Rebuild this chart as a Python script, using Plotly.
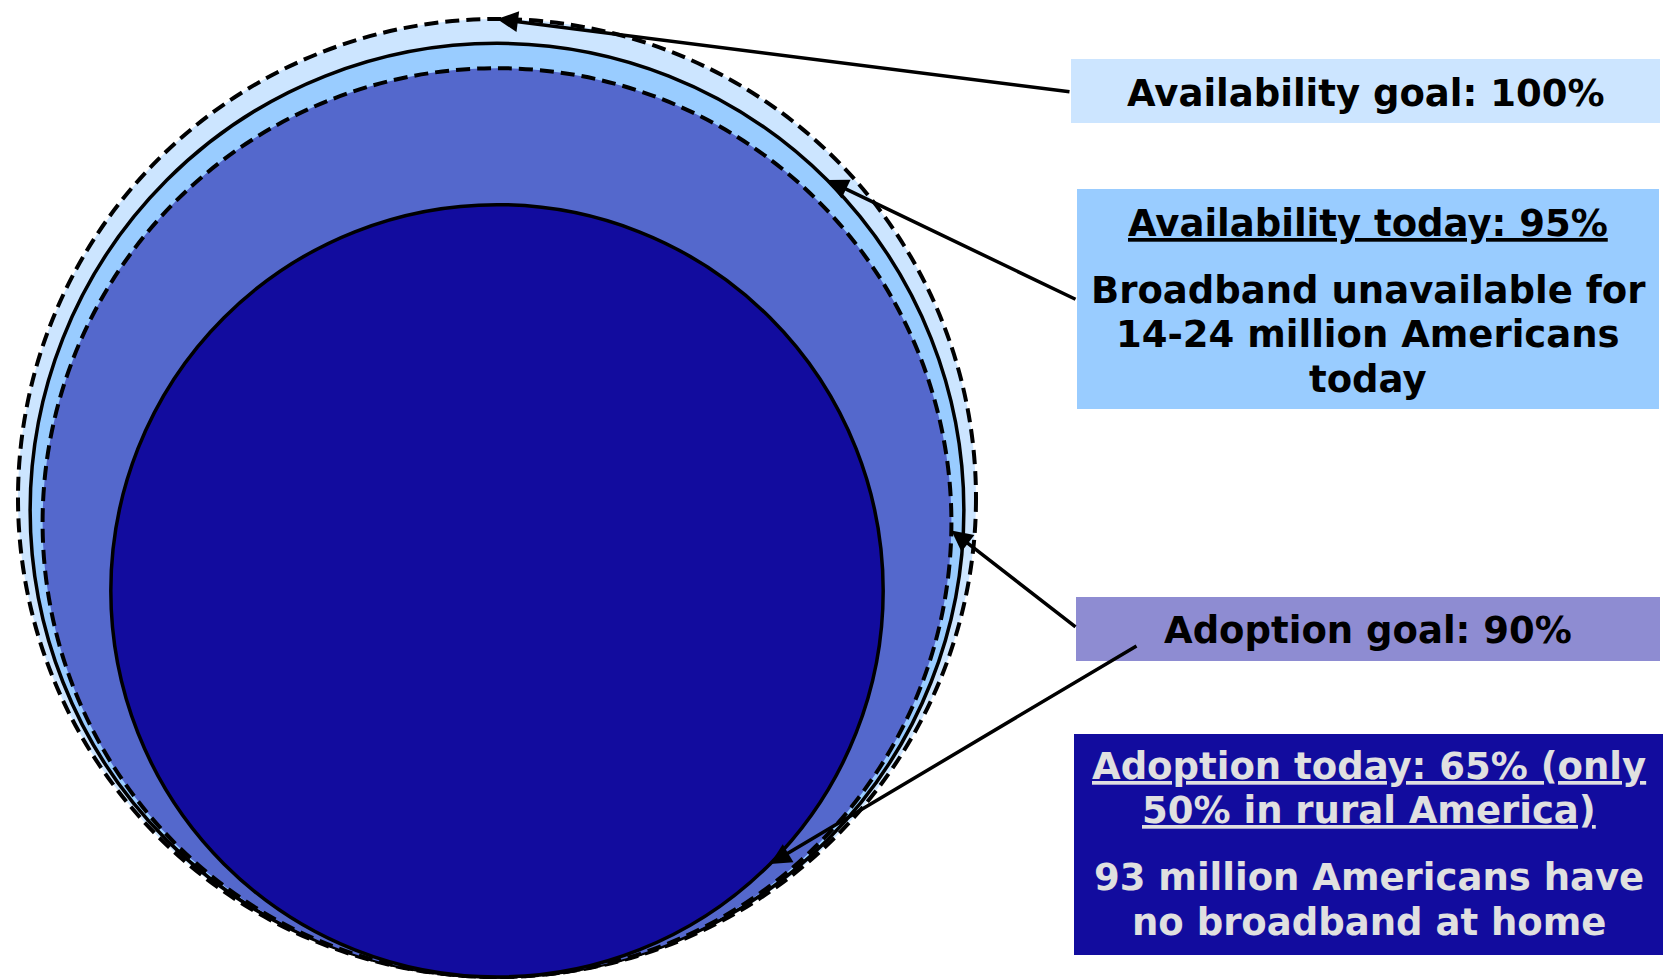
import math
import plotly.graph_objects as go

# ---- data ----
levels = ["Availability goal", "Availability today", "Adoption goal", "Adoption today"]
percent = [100, 95, 90, 65]
circle_fill = ["#cce5ff", "#99ccff", "#5468cc", "#120c9e"]
circle_dash = ["14px,7px", "solid", "14px,7px", "solid"]
circle_line_w = [4, 3.5, 4, 3.5]

box_lines = [
    ["Availability goal: 100%"],
    ["<u>Availability today: 95%</u>", "Broadband unavailable for",
     "14-24 million Americans", "today"],
    ["Adoption goal: 90%"],
    ["<u>Adoption today: 65% (only</u>", "<u>50% in rural America)</u>",
     "93 million Americans have", "no broadband at home"],
]
box_fill = ["#cce5ff", "#99ccff", "#8e8cd2", "#120c9e"]
box_text_color = ["#000000", "#000000", "#000000", "#e0e0e0"]
arrow_angle_deg = [90, 45, -1, -45]

# ---- layout geometry (pixel-like units) ----
W, H = 1663, 980
cx, bottom, R = 497, 977, 479
boxes = [  # x0, x1, y0, y1
    (1071, 1660, 59, 123),
    (1077, 1659, 189, 409),
    (1076, 1660, 597, 661),
    (1074, 1663, 734, 955),
]
line_y = [
    [93],
    [223, 290, 334, 379],
    [630],
    [766, 810, 877, 922],
]
arrow_tail = [(1071, 92), (1077, 300), (1077, 628), (1138, 645)]

FONT = "DejaVu Sans"
FS = 37

fig = go.Figure()
fig.add_trace(go.Scatter(x=[0, W], y=[0, H], mode="markers",
                         marker=dict(opacity=0), hoverinfo="skip", showlegend=False))

shapes = []
annotations = []
radii = []
for p, fill, dash, lw in zip(percent, circle_fill, circle_dash, circle_line_w):
    r = R * math.sqrt(p / 100.0)
    radii.append(r)
    cy = bottom - r
    shapes.append(dict(type="circle", xref="x", yref="y",
                       x0=cx - r, x1=cx + r, y0=cy - r, y1=cy + r,
                       fillcolor=fill, line=dict(color="black", width=lw, dash=dash),
                       layer="above"))

for (x0, x1, y0, y1), fill in zip(boxes, box_fill):
    shapes.append(dict(type="rect", xref="x", yref="y", x0=x0, x1=x1, y0=y0, y1=y1,
                       fillcolor=fill, line=dict(width=0), layer="above"))

for i in range(4):
    x0, x1, y0, y1 = boxes[i]
    xc = (x0 + x1) / 2
    for txt, yy in zip(box_lines[i], line_y[i]):
        annotations.append(dict(x=xc, y=yy, xref="x", yref="y",
                                text="<b>" + txt + "</b>", showarrow=False,
                                font=dict(family=FONT, size=FS, color=box_text_color[i]),
                                xanchor="center", yanchor="middle", align="center"))

# arrows from boxes to circle edges
for i in range(4):
    r = radii[i]
    cy = bottom - r
    a = math.radians(arrow_angle_deg[i])
    tx = cx + r * math.cos(a)
    ty = cy - r * math.sin(a)
    annotations.append(dict(x=tx, y=ty, xref="x", yref="y",
                            ax=arrow_tail[i][0], ay=arrow_tail[i][1], axref="x", ayref="y",
                            text="", showarrow=True, arrowhead=2, arrowsize=1.2,
                            arrowwidth=3.5, arrowcolor="black", standoff=0))

fig.update_layout(
    width=W, height=H, autosize=False,
    margin=dict(l=0, r=0, t=0, b=0, pad=0),
    paper_bgcolor="white", plot_bgcolor="white",
    xaxis=dict(range=[0, W], visible=False, fixedrange=True),
    yaxis=dict(range=[H, 0], visible=False, fixedrange=True),
    shapes=shapes, annotations=annotations, showlegend=False,
)

fig.write_html("out.html", config={"displayModeBar": False},
               post_script="document.body.style.margin='0';document.body.style.overflow='hidden';")
